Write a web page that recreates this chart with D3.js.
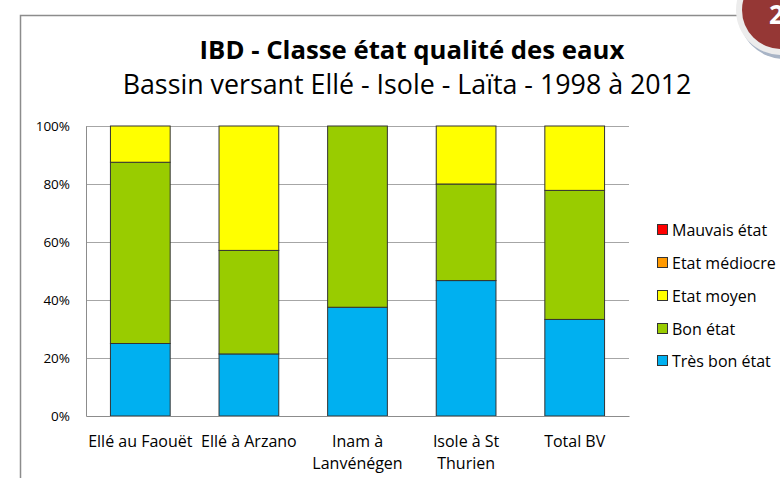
<!DOCTYPE html>
<html>
<head>
<meta charset="utf-8">
<script src="https://cdn.jsdelivr.net/npm/d3@7"></script>
<style>
  body { margin: 0; background: #fff; }
  svg { display: block; font-family: "Open Sans", Lato, sans-serif; }
</style>
</head>
<body>
<div id="graphique"></div>
<script>
// Donnees (pourcentages)
var stations = ["Ellé au Faouët", "Ellé à Arzano", "Inam à Lanvénégen", "Isole à St Thurien", "Total BV"];
var etiquettes = [["Ellé au Faouët"], ["Ellé à Arzano"], ["Inam à", "Lanvénégen"], ["Isole à St", "Thurien"], ["Total BV"]];
var tresBonEtat = [25, 21.4, 37.5, 46.7, 33.3];
var bonEtat = [62.5, 35.7, 62.5, 33.3, 44.5];
var etatMoyen = [12.5, 42.9, 0, 20, 22.2];
var etatMediocre = [0, 0, 0, 0, 0];
var mauvaisEtat = [0, 0, 0, 0, 0];
var classes = ["Très bon état", "Bon état", "Etat moyen", "Etat médiocre", "Mauvais état"];
var couleurs = ["#00b0f0", "#99cc00", "#ffff00", "#ff9900", "#ff0000"];
var ticksY = [0, 20, 40, 60, 80, 100];

var largeur = 780, hauteur = 478;
var margin = {top: 126, left: 86, right: 151, bottom: 62};
var w = largeur - margin.left - margin.right;
var h = hauteur - margin.top - margin.bottom;

var svg = d3.select("#graphique").append("svg")
    .attr("width", largeur)
    .attr("height", hauteur);

// Ajuste la taille de police pour obtenir la largeur voulue
function ajusterLargeur(sel, cible) {
  var taille = +sel.attr("font-size");
  var l = sel.node().getComputedTextLength();
  sel.attr("font-size", taille * cible / l);
}

// Cadre du graphique
svg.append("rect")
    .attr("x", 20.5).attr("y", 15.5)
    .attr("width", 800).attr("height", 500)
    .attr("fill", "none")
    .attr("stroke", "#8c8c8c")
    .attr("stroke-width", 1.5);

// Titres
var titre = svg.append("text")
    .attr("x", 412).attr("y", 59)
    .attr("text-anchor", "middle")
    .attr("font-size", 24).attr("font-weight", "bold")
    .text("IBD - Classe état qualité des eaux");
ajusterLargeur(titre, 425);
var sousTitre = svg.append("text")
    .attr("x", 407).attr("y", 94)
    .attr("text-anchor", "middle")
    .attr("font-size", 24)
    .text("Bassin versant Ellé - Isole - Laïta - 1998 à 2012");
ajusterLargeur(sousTitre, 569);

var g = svg.append("g")
    .attr("transform", "translate(" + margin.left + "," + margin.top + ")");

var x = d3.scaleBand().domain(stations).range([0, w]).paddingInner(0.45).paddingOuter(0.225);
var y = d3.scaleLinear().domain([0, 100]).range([h, 0]);

// Lignes de grille
g.append("g")
    .selectAll("line")
    .data(ticksY.filter(function(t) { return t > 0; }))
    .enter().append("line")
    .attr("x1", 0).attr("x2", w)
    .attr("y1", function(d) { return Math.round(y(d)) + 0.5; })
    .attr("y2", function(d) { return Math.round(y(d)) + 0.5; })
    .attr("stroke", "#a6a6a6");

// Empilement des series
var donnees = stations.map(function(s, i) {
  return {station: s, "Très bon état": tresBonEtat[i], "Bon état": bonEtat[i],
          "Etat moyen": etatMoyen[i], "Etat médiocre": etatMediocre[i], "Mauvais état": mauvaisEtat[i]};
});
var pile = d3.stack().keys(classes)(donnees);

g.selectAll("g.serie")
    .data(pile)
    .enter().append("g")
    .attr("class", "serie")
    .attr("fill", function(d, i) { return couleurs[i]; })
    .selectAll("rect")
    .data(function(d) { return d.filter(function(p) { return p[1] - p[0] > 0; }); })
    .enter().append("rect")
    .attr("x", function(d) { return x(d.data.station); })
    .attr("width", x.bandwidth())
    .attr("y", function(d) { return y(d[1]); })
    .attr("height", function(d) { return y(d[0]) - y(d[1]); })
    .attr("stroke", "#333")
    .attr("stroke-width", 1);

// Axe Y
var axeY = g.append("g")
    .call(d3.axisLeft(y).tickValues(ticksY).tickSize(0).tickPadding(16)
      .tickFormat(function(d) { return d + "%"; }));
axeY.select(".domain").attr("stroke", "#8c8c8c");
axeY.selectAll("text").attr("font-size", 13.5).attr("fill", "#000")
    .attr("font-family", "'Open Sans', sans-serif");

// Axe X
var axeX = g.append("g")
    .attr("transform", "translate(0," + h + ")")
    .call(d3.axisBottom(x).tickSize(0).tickFormat(""));
axeX.select(".domain").attr("stroke", "#8c8c8c");

g.append("g").selectAll("text")
    .data(stations)
    .enter().append("text")
    .attr("x", function(d) { return x(d) + x.bandwidth() / 2; })
    .attr("y", h + 31)
    .attr("text-anchor", "middle")
    .attr("font-size", 16)
    .each(function(d, i) {
      var t = d3.select(this);
      etiquettes[i].forEach(function(ligne, j) {
        t.append("tspan")
          .attr("x", x(d) + x.bandwidth() / 2)
          .attr("dy", j === 0 ? 0 : 21.5)
          .text(ligne);
      });
    });

// Legende (ordre inverse)
var legende = svg.append("g").attr("transform", "translate(657,0)");
var ordre = classes.slice().reverse();
var yLegende = [230, 263, 296, 329, 361];
legende.selectAll("g")
    .data(ordre)
    .enter().append("g")
    .attr("transform", function(d, i) { return "translate(0," + yLegende[i] + ")"; })
    .each(function(d) {
      var item = d3.select(this);
      item.append("rect")
        .attr("x", 0.5).attr("y", -5.5)
        .attr("width", 10).attr("height", 10)
        .attr("fill", couleurs[classes.indexOf(d)])
        .attr("stroke", "#333");
      item.append("text")
        .attr("x", 15).attr("y", 5.5)
        .attr("font-size", 16)
        .text(d);
    });

// Pastille numero de page
var pastille = svg.append("g");
pastille.append("circle").attr("cx", 784).attr("cy", 14).attr("r", 45).attr("fill", "#a8b4c6");
pastille.append("circle").attr("cx", 781).attr("cy", 10).attr("r", 45).attr("fill", "#ececec");
pastille.append("circle").attr("cx", 781).attr("cy", 10).attr("r", 39).attr("fill", "#953735");
pastille.append("text").attr("x", 769).attr("y", 24)
    .attr("font-size", 26).attr("font-weight", "bold").attr("fill", "#fff").text("2");
</script>
</body>
</html>
